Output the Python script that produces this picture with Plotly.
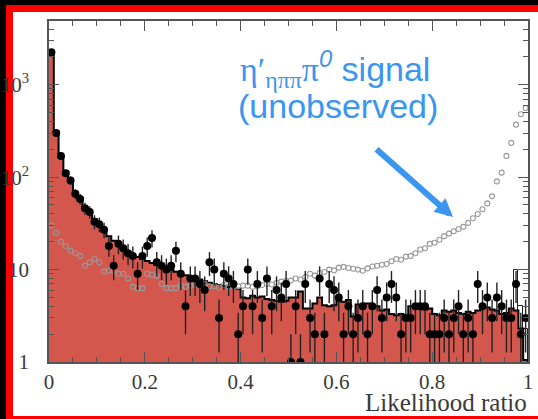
import plotly.graph_objects as go
import numpy as np

# ---------------- data ----------------
bin_edges = [i / 100 for i in range(101)]
bin_centers = [(bin_edges[i] + bin_edges[i + 1]) / 2 for i in range(100)]

background = [
    2230, 310, 166, 115, 89, 68, 57, 48, 41, 35,
    30, 26, 23, 20.5, 18.5, 16.7, 15.5, 14.4, 13.7, 13,
    12.4, 11.8, 11.2, 10.7, 10.3, 9.9, 9.5, 9.1, 8.7, 8.3,
    8.0, 7.8, 7.5, 7.2, 7.0, 6.8, 6.6, 6.5, 6.3, 6.2,
    5.0, 4.9, 5.2, 5.0, 5.1, 4.8, 4.7, 4.6, 4.5, 4.6,
    5.0, 5.0, 5.8, 3.8, 3.8, 4.3, 5.0, 4.1, 4.0, 4.1,
    4.6, 4.5, 4.7, 3.1, 4.2, 4.1, 4.3, 3.9, 4.0, 3.6,
    3.7, 3.3, 3.2, 3.3, 3.2, 4.0, 3.9, 3.8, 3.7, 3.8,
    3.3, 3.2, 3.6, 3.5, 3.6, 3.4, 3.3, 3.5, 3.4, 3.6,
    4.0, 3.9, 3.7, 3.6, 3.3, 3.4, 3.8, 3.6, 2.3, 1.05,
]

# extra (unfilled) component visible only in the last bins
other_total = [0] * 97 + [10, 4.0, 2.3]

data_counts = [
    2250, 300, 170, 110, 92, 66, 58, 46, 42, 33,
    31, 27, 18, 11, 19, 17, 15, 14, 9, 14,
    18, 22, 12, 11, 10, 11, 16, 9, 4, 8,
    8, 7, 6, 12, 10, 3, 9, 8, 7, 2,
    4, 10, 4, 7, 3, 8, 4, 6, 5, 7,
    1, 4, 1, 7, 3, 2, 8, 2, 7, 6,
    5, 2, 4, 2, 3, 4, 2, 4, 6, 3,
    5, 7, 5, 2, 3, 3, 4, 4, 4, 2,
    2, 2, 3, 2, 3, 4, 2, 3, 2, 7,
    4, 5, 3, 5, 4, 3, 3, 7, 2, 3,
]

signal = [
    30, 25, 20, 18, 16, 15, 14, 11, 12, 13,
    12, 9.5, 9.7, 9.7, 9, 9, 8, 6.5, 6.3, 6.3,
    9, 8.8, 8.5, 7, 6.3, 6.3, 6.3, 6.7, 6.5, 6.7,
    6.8, 7, 7, 6.6, 6.6, 6.4, 6.8, 6.5, 6.5, 6.6,
    6.7, 6.7, 6.5, 6.6, 6.8, 7, 6.9, 7.2, 7.4, 7.5,
    7.6, 8, 7.8, 8.3, 9, 8.6, 9.2, 9.4, 10, 9.8,
    10.5, 10.7, 10.4, 10.2, 10, 9.7, 10.3, 10.8, 11, 11.3,
    11.5, 12.3, 13, 12.8, 13.8, 14, 15, 16.5, 17, 19,
    19.5, 21, 23, 24.5, 26, 27.5, 29, 32, 36, 40,
    45, 52, 62, 90, 112, 170, 235, 370, 480, 560,
]

x_ticks = [0, 0.2, 0.4, 0.6, 0.8, 1]
x_tick_text = ["0", "0.2", "0.4", "0.6", "0.8", "1"]
y_ticks = [1, 10, 100, 1000]
y_tick_text = ["1", "10", "10<sup>2</sup>", "10<sup>3</sup>"]

# ---------------- layout helpers (pixel -> paper) ----------------
W, H = 538, 419
L, R, T, B = 49, 10, 21, 57
PW, PH = W - L - R, H - T - B


def px(x):
    return (x - L) / PW


def py(y):
    return (H - B - y) / PH


RED_FILL = "#d4574e"
BLUE = "#3a96ee"

fig = go.Figure()

# unfilled component
other_plot = [v if v > 0 else None for v in other_total]
fig.add_trace(go.Bar(x=bin_centers, y=other_plot, width=0.01,
                     marker=dict(color="white", line=dict(color="#222", width=1)),
                     showlegend=False, hoverinfo="skip"))

# background histogram (filled)
fig.add_trace(go.Bar(x=bin_centers, y=background, width=0.01,
                     marker=dict(color=RED_FILL, line=dict(width=0)),
                     showlegend=False, hoverinfo="skip"))

# black outline of histogram
step_x = bin_edges[:-1] + [bin_edges[-1], bin_edges[-1]]
step_y = background + [background[-1], 1.0]
fig.add_trace(go.Scatter(x=step_x, y=step_y, mode="lines",
                         line=dict(color="black", width=2, shape="hv"),
                         showlegend=False, hoverinfo="skip"))

# signal open circles
fig.add_trace(go.Scatter(x=bin_centers, y=signal, mode="markers",
                         marker=dict(symbol="circle-open", size=5,
                                     color="#999999", line=dict(width=1.1)),
                         showlegend=False, hoverinfo="skip"))

# data points with Poisson errors
errs = [float(np.sqrt(n)) for n in data_counts]
fig.add_trace(go.Scatter(x=bin_centers, y=data_counts, mode="markers",
                         marker=dict(symbol="circle", size=8, color="black"),
                         error_y=dict(type="data", array=errs, visible=True,
                                      color="#222", thickness=1.4, width=0),
                         showlegend=False, hoverinfo="skip"))

axis_font = dict(family="Liberation Serif, Times New Roman, serif", size=21, color="#3a3a3a")

fig.update_xaxes(range=[0, 1], tickvals=x_ticks, ticktext=x_tick_text, automargin=False,
                 ticks="inside", ticklen=10, tickwidth=1.3, tickcolor="#555",
                 showline=True, linecolor="#555", linewidth=1.5, mirror="allticks",
                 showgrid=False, zeroline=False, tickfont=axis_font,
                 minor=dict(ticks="inside", ticklen=5, dtick=0.05, tickcolor="#555", showgrid=False))
fig.update_yaxes(type="log", range=[0, 3.69], tickvals=y_ticks, ticktext=y_tick_text,
                 automargin=False,
                 ticks="inside", ticklen=10, tickwidth=1.3, tickcolor="#555",
                 showline=True, linecolor="#555", linewidth=1.5, mirror="allticks",
                 showgrid=False, zeroline=False, tickfont=axis_font, ticklabelstandoff=14,
                 minor=dict(ticks="inside", ticklen=5, dtick="D1", tickcolor="#555", showgrid=False))

shapes = [
    dict(type="rect", xref="paper", yref="paper", x0=px(6), x1=px(560), y0=py(5), y1=py(440),
         fillcolor="#ff0000", line=dict(width=0), layer="below"),
    dict(type="rect", xref="paper", yref="paper", x0=px(13), x1=px(560), y0=py(12), y1=py(416),
         fillcolor="white", line=dict(width=0), layer="below"),
]

serif = "Liberation Serif, Times New Roman, serif"
annotations = [
    dict(xref="paper", yref="paper", x=px(335), y=py(69), xanchor="center", yanchor="middle",
         showarrow=False,
         text=(f"<span style='font-family:{serif}'>η′<sub>ηππ</sub>π</span>"
               "<sup><i>0</i></sup> signal"),
         font=dict(family="Liberation Sans, Arial, sans-serif", size=34, color=BLUE)),
    dict(xref="paper", yref="paper", x=px(338), y=py(106), xanchor="center", yanchor="middle",
         showarrow=False, text="(unobserved)",
         font=dict(family="Liberation Sans, Arial, sans-serif", size=34, color=BLUE)),
    dict(xref="paper", yref="paper", x=px(453), y=py(217), text="", showarrow=True,
         ax=375 - 453, ay=148 - 217, arrowhead=2, arrowsize=0.6, arrowwidth=6,
         arrowcolor=BLUE, standoff=0),
    dict(xref="paper", yref="paper", x=px(529), y=py(403), xanchor="right", yanchor="middle",
         showarrow=False, text="Likelihood ratio",
         font=dict(family=serif, size=25, color="#3a3a3a")),
]

fig.update_layout(width=W, height=H, margin=dict(l=L, r=R, t=T, b=B, pad=0),
                  paper_bgcolor="black", plot_bgcolor="white",
                  barmode="overlay", bargap=0, showlegend=False,
                  shapes=shapes, annotations=annotations)

fig.write_html("out.html")
